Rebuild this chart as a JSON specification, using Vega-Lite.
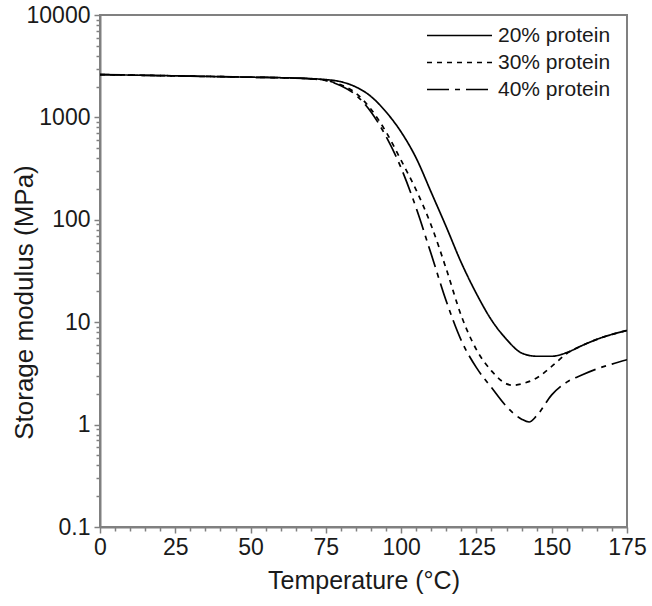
{
  "$schema": "https://vega.github.io/schema/vega-lite/v6.json",
  "width": 527,
  "height": 512,
  "autosize": {"type": "none"},
  "padding": {"left": 100, "top": 15, "right": 25, "bottom": 79},
  "background": "white",
  "config": {
    "view": {"stroke": "#808080", "strokeWidth": 2},
    "font": "Liberation Sans"
  },
  "datasets": {
    "curves": [
      {"t": 0, "E": 2620, "s": "20% protein"}, {"t": 10, "E": 2590, "s": "20% protein"}, {"t": 20, "E": 2560, "s": "20% protein"}, {"t": 30, "E": 2530, "s": "20% protein"}, {"t": 40, "E": 2500, "s": "20% protein"}, {"t": 50, "E": 2470, "s": "20% protein"}, {"t": 60, "E": 2440, "s": "20% protein"}, {"t": 70, "E": 2390, "s": "20% protein"}, {"t": 75, "E": 2340, "s": "20% protein"}, {"t": 80, "E": 2230, "s": "20% protein"}, {"t": 85, "E": 1980, "s": "20% protein"}, {"t": 90, "E": 1600, "s": "20% protein"}, {"t": 95, "E": 1130, "s": "20% protein"}, {"t": 100, "E": 720, "s": "20% protein"}, {"t": 105, "E": 400, "s": "20% protein"}, {"t": 110, "E": 185, "s": "20% protein"}, {"t": 115, "E": 85, "s": "20% protein"}, {"t": 120, "E": 38, "s": "20% protein"}, {"t": 125, "E": 19, "s": "20% protein"}, {"t": 130, "E": 10.5, "s": "20% protein"}, {"t": 135, "E": 6.8, "s": "20% protein"}, {"t": 140, "E": 5.0, "s": "20% protein"}, {"t": 145, "E": 4.65, "s": "20% protein"}, {"t": 150, "E": 4.65, "s": "20% protein"}, {"t": 155, "E": 5.05, "s": "20% protein"}, {"t": 160, "E": 5.9, "s": "20% protein"}, {"t": 165, "E": 6.8, "s": "20% protein"}, {"t": 170, "E": 7.6, "s": "20% protein"}, {"t": 175, "E": 8.3, "s": "20% protein"},

      {"t": 0, "E": 2620, "s": "30% protein"}, {"t": 10, "E": 2590, "s": "30% protein"}, {"t": 20, "E": 2560, "s": "30% protein"}, {"t": 30, "E": 2530, "s": "30% protein"}, {"t": 40, "E": 2500, "s": "30% protein"}, {"t": 50, "E": 2470, "s": "30% protein"}, {"t": 60, "E": 2440, "s": "30% protein"}, {"t": 70, "E": 2380, "s": "30% protein"}, {"t": 75, "E": 2300, "s": "30% protein"}, {"t": 80, "E": 2080, "s": "30% protein"}, {"t": 85, "E": 1720, "s": "30% protein"}, {"t": 90, "E": 1200, "s": "30% protein"}, {"t": 95, "E": 720, "s": "30% protein"}, {"t": 100, "E": 380, "s": "30% protein"}, {"t": 105, "E": 195, "s": "30% protein"}, {"t": 110, "E": 88, "s": "30% protein"}, {"t": 115, "E": 33, "s": "30% protein"}, {"t": 120, "E": 11.5, "s": "30% protein"}, {"t": 125, "E": 5.4, "s": "30% protein"}, {"t": 130, "E": 3.35, "s": "30% protein"}, {"t": 135, "E": 2.5, "s": "30% protein"}, {"t": 137, "E": 2.42, "s": "30% protein"}, {"t": 140, "E": 2.5, "s": "30% protein"}, {"t": 145, "E": 2.85, "s": "30% protein"}, {"t": 150, "E": 3.7, "s": "30% protein"}, {"t": 155, "E": 4.95, "s": "30% protein"}, {"t": 160, "E": 5.9, "s": "30% protein"}, {"t": 165, "E": 6.8, "s": "30% protein"}, {"t": 170, "E": 7.6, "s": "30% protein"}, {"t": 175, "E": 8.3, "s": "30% protein"},

      {"t": 0, "E": 2620, "s": "40% protein"}, {"t": 10, "E": 2590, "s": "40% protein"}, {"t": 20, "E": 2560, "s": "40% protein"}, {"t": 30, "E": 2530, "s": "40% protein"}, {"t": 40, "E": 2500, "s": "40% protein"}, {"t": 50, "E": 2470, "s": "40% protein"}, {"t": 60, "E": 2440, "s": "40% protein"}, {"t": 70, "E": 2380, "s": "40% protein"}, {"t": 75, "E": 2290, "s": "40% protein"}, {"t": 80, "E": 2040, "s": "40% protein"}, {"t": 85, "E": 1650, "s": "40% protein"}, {"t": 90, "E": 1130, "s": "40% protein"}, {"t": 95, "E": 650, "s": "40% protein"}, {"t": 100, "E": 320, "s": "40% protein"}, {"t": 105, "E": 130, "s": "40% protein"}, {"t": 110, "E": 46, "s": "40% protein"}, {"t": 115, "E": 16, "s": "40% protein"}, {"t": 120, "E": 6.6, "s": "40% protein"}, {"t": 125, "E": 3.6, "s": "40% protein"}, {"t": 130, "E": 2.3, "s": "40% protein"}, {"t": 135, "E": 1.5, "s": "40% protein"}, {"t": 140, "E": 1.13, "s": "40% protein"}, {"t": 142.5, "E": 1.06, "s": "40% protein"}, {"t": 145, "E": 1.22, "s": "40% protein"}, {"t": 150, "E": 1.95, "s": "40% protein"}, {"t": 155, "E": 2.6, "s": "40% protein"}, {"t": 160, "E": 3.05, "s": "40% protein"}, {"t": 165, "E": 3.5, "s": "40% protein"}, {"t": 170, "E": 3.9, "s": "40% protein"}, {"t": 175, "E": 4.3, "s": "40% protein"}
    ]
  },
  "data": {"name": "curves"},
  "mark": {"type": "line", "color": "black", "strokeWidth": 1.7, "interpolate": "monotone", "clip": true},
  "encoding": {
    "x": {
      "field": "t", "type": "quantitative",
      "scale": {"domain": [0, 175], "nice": false},
      "axis": {
        "title": "Temperature (°C)",
        "values": [0,5,10,15,20,25,30,35,40,45,50,55,60,65,70,75,80,85,90,95,100,105,110,115,120,125,130,135,140,145,150,155,160,165,170,175],
        "format": "d",
        "labelExpr": "datum.value % 25 === 0 ? datum.label : ''",
        "tickSize": {"condition": {"test": "datum.value % 25 === 0", "value": 6}, "value": 4},
        "grid": false,
        "domainColor": "#808080", "domainWidth": 2,
        "tickColor": "#808080", "tickWidth": 1.5,
        "labelFontSize": 23, "labelColor": "#1a1a1a", "labelPadding": 3,
        "labelFlush": false, "labelOverlap": false,
        "titleFontSize": 25, "titleColor": "#1a1a1a", "titleFontWeight": "normal", "titlePadding": 9
      }
    },
    "y": {
      "field": "E", "type": "quantitative",
      "scale": {"type": "log", "domain": [0.1, 10000], "nice": false},
      "axis": {
        "title": "Storage modulus (MPa)",
        "values": [0.1,0.2,0.3,0.4,0.5,0.6,0.7,0.8,0.9,1,2,3,4,5,6,7,8,9,10,20,30,40,50,60,70,80,90,100,200,300,400,500,600,700,800,900,1000,2000,3000,4000,5000,6000,7000,8000,9000,10000],
        "labelExpr": "indexof([0.1,1,10,100,1000,10000], datum.value) >= 0 ? (datum.value < 1 ? '0.1' : format(datum.value, 'd')) : ''",
        "tickSize": {"condition": {"test": "indexof([0.1,1,10,100,1000,10000], datum.value) >= 0", "value": 6}, "value": 4},
        "grid": false,
        "domainColor": "#808080", "domainWidth": 2,
        "tickColor": "#808080", "tickWidth": 1.5,
        "labelFontSize": 23, "labelColor": "#1a1a1a", "labelPadding": 4,
        "labelOverlap": false, "labelFlush": false,
        "titleFontSize": 26, "titleColor": "#1a1a1a", "titleFontWeight": "normal",
        "titleX": -68, "titleY": 287, "titleAngle": 270, "titleAlign": "center", "titleBaseline": "alphabetic"
      }
    },
    "strokeDash": {
      "field": "s", "type": "nominal",
      "scale": {"domain": ["20% protein", "30% protein", "40% protein"], "range": [[1, 0], [5, 5], [22, 6, 5, 6]]},
      "legend": {
        "orient": "none", "legendX": 326, "legendY": 7,
        "title": null,
        "symbolType": "stroke", "symbolSize": 4225, "symbolStrokeWidth": 1.6, "symbolStrokeColor": "black",
        "labelFontSize": 21, "labelColor": "#1a1a1a", "labelOffset": 5,
        "clipHeight": 27, "rowPadding": 0, "padding": 0
      }
    }
  }
}
